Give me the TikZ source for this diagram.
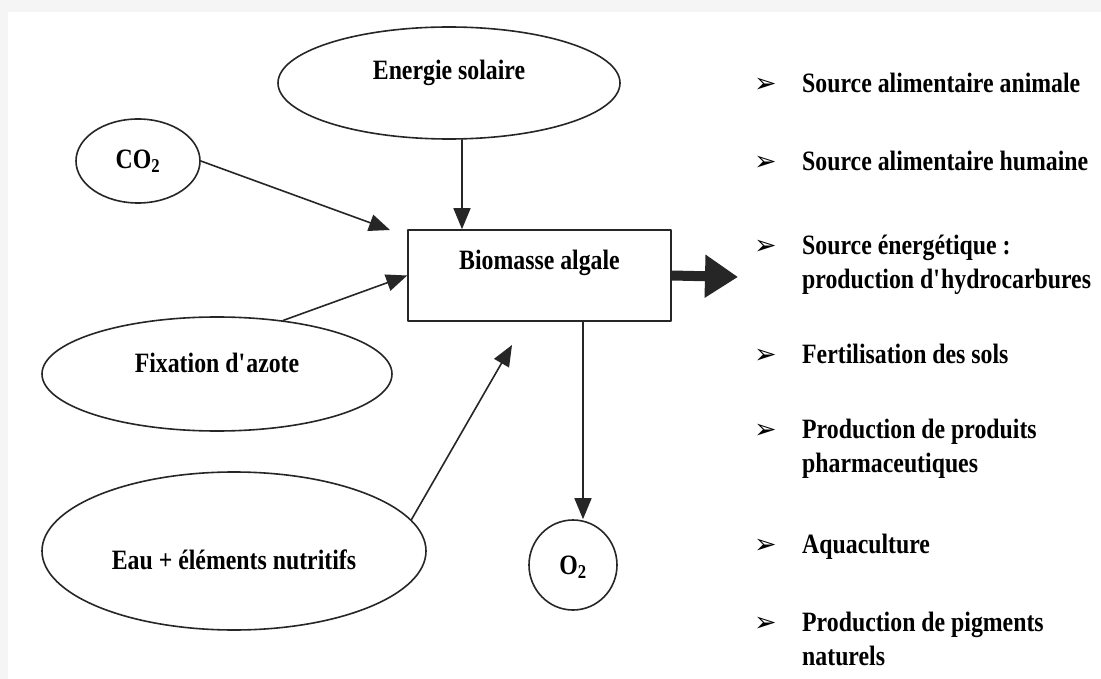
\documentclass[tikz,border=0pt]{standalone}
\usepackage{fontspec}
\setmainfont{Liberation Serif}[FakeStretch=0.85]
\newfontfamily\pucefont{DejaVu Sans}
\usetikzlibrary{shapes.geometric,arrows.meta}

\newcommand{\deuxlignes}[2]{\parbox[t]{290pt}{\raggedright #1\\#2}}

\tikzset{
  ovale/.style={ellipse,draw=black!85,line width=1.6pt,inner sep=0pt},
  boite/.style={rectangle,draw=black!85,line width=1.6pt,inner sep=0pt,
    minimum width=263pt,minimum height=91pt},
  fleche/.style={black!85,line width=1.6pt,-{Triangle[length=21pt,width=17pt]}},
  usage/.style={anchor=base west,inner sep=0pt},
  puce/.style={anchor=base west,inner sep=0pt,font=\pucefont\fontsize{27}{27}\selectfont}
}

\begin{document}
\begin{tikzpicture}[x=1pt,y=-1pt,line cap=round,line join=round,
  every node/.style={font=\fontsize{28}{34}\selectfont\bfseries}]
\useasboundingbox (0,0) rectangle (1101,679);
\fill[gray!8] (0,0) rectangle (1101,679);
\fill[white] (8,12) rectangle (1101,679);

% sources
\node[ovale,minimum width=342pt,minimum height=112pt,
  label={[yshift=10pt]center:Energie solaire}] (soleil) at (449,83) {};
\node[ovale,minimum width=124pt,minimum height=84pt,
  label={center:CO\textsubscript{2}}] (co2) at (138,161) {};
\node[ovale,minimum width=350pt,minimum height=114pt,
  label={[yshift=11pt]center:Fixation d\textquotesingle azote}] (azote) at (217,374) {};
\node[ovale,minimum width=384pt,minimum height=158pt,
  label={[yshift=-9pt]center:Eau + éléments nutritifs}] (eau) at (234,551) {};

% biomasse et oxygene
\node[boite,label={[yshift=13pt]center:Biomasse algale}] (biomasse) at (539.5,275.5) {};
\node[ovale,minimum width=88pt,minimum height=90pt,
  label={[yshift=-2pt]center:O\textsubscript{2}}] (oxy) at (573,565) {};

\coordinate (pointeco2) at (390,230);
\coordinate (pointeau) at (512,345);
\coordinate (pointeusage) at (738,277);
\coordinate (entree) at ([xshift=-77.5pt]biomasse.north);
\coordinate (sortie) at ([xshift=43.5pt]biomasse.south);

\draw[fleche] (entree |- soleil.south) -- (entree);
\draw[fleche] (co2.east) -- (pointeco2);
\draw[fleche] (azote.39) -- (biomasse.west);
\draw[fleche] (eau.10) -- (pointeau);
\draw[fleche] (sortie) -- (sortie |- oxy.north);
\draw[black!85,line width=10pt,line cap=butt,-{Triangle[length=33pt,width=41pt]}] (biomasse.east) -- (pointeusage);

% usages
\foreach \yb/\nom in {93/p1,171/p2,255/p3,363/p4,438/p5,553/p6,631/p7}
  \node[puce] (\nom) at (754,\yb) {➢};
\node[usage] (u1) at (802,93) {Source alimentaire animale};
\node[usage] (u2) at (802,171) {Source alimentaire humaine};
\node[usage] (u3) at (802,255) {\deuxlignes{Source énergétique :}{production d\textquotesingle hydrocarbures}};
\node[usage] (u4) at (802,363) {Fertilisation des sols};
\node[usage] (u5) at (802,438) {\deuxlignes{Production de produits}{pharmaceutiques}};
\node[usage] (u6) at (802,553) {Aquaculture};
\node[usage] (u7) at (802,631) {\deuxlignes{Production de pigments}{naturels}};
\end{tikzpicture}
\end{document}
